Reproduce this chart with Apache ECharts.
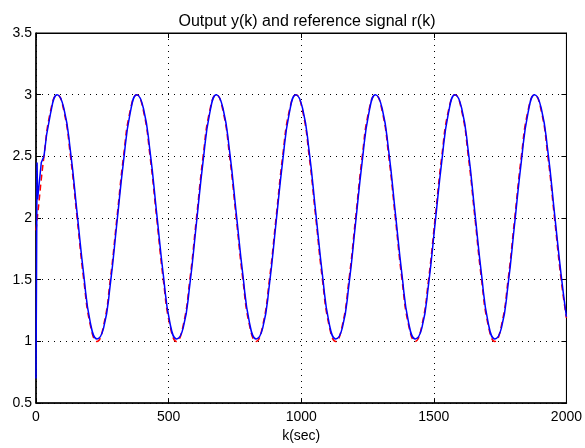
<!DOCTYPE html>
<html>
<head>
<meta charset="utf-8">
<script src="https://cdn.jsdelivr.net/npm/echarts@6/dist/echarts.min.js"></script>
<style>
html,body{margin:0;padding:0;background:#fff;}
#chart{width:585px;height:448px;}
</style>
</head>
<body>
<div id="chart"></div>
<script>
// Reference signal r(k) (red dashed)
const kRef = [0, 5, 30, 55, 80, 105, 130, 155, 180, 205, 230, 255, 280, 305, 330, 355, 380, 405, 430, 455, 480, 505, 530, 555, 580, 605, 630, 655, 680, 705, 730, 755, 780, 805, 830, 855, 880, 905, 930, 955, 980, 1005, 1030, 1055, 1080, 1105, 1130, 1155, 1180, 1205, 1230, 1255, 1280, 1305, 1330, 1355, 1380, 1405, 1430, 1455, 1480, 1505, 1530, 1555, 1580, 1605, 1630, 1655, 1680, 1705, 1730, 1755, 1780, 1805, 1830, 1855, 1880, 1905, 1930, 1955, 1980, 2000];
const rRef = [1.90,
  2.00, 2.50, 2.87, 3.00, 2.87, 2.50, 2.00, 1.50, 1.13, 1.00, 1.13, 1.50,
  2.00, 2.50, 2.87, 3.00, 2.87, 2.50, 2.00, 1.50, 1.13, 1.00, 1.13, 1.50,
  2.00, 2.50, 2.87, 3.00, 2.87, 2.50, 2.00, 1.50, 1.13, 1.00, 1.13, 1.50,
  2.00, 2.50, 2.87, 3.00, 2.87, 2.50, 2.00, 1.50, 1.13, 1.00, 1.13, 1.50,
  2.00, 2.50, 2.87, 3.00, 2.87, 2.50, 2.00, 1.50, 1.13, 1.00, 1.13, 1.50,
  2.00, 2.50, 2.87, 3.00, 2.87, 2.50, 2.00, 1.50, 1.13, 1.00, 1.13, 1.50,
  2.00, 2.50, 2.87, 3.00, 2.87, 2.50, 2.00, 1.50,
  1.19];

// Output y(k): initial transient (blue)
const kStart = [0, 4, 6, 12, 20, 30];
const yStart = [0.70, 2.45, 2.15, 2.15, 2.45, 2.50];

// Output y(k): tracking part (blue)
const kOut = [30, 55, 80, 105, 130, 155, 180, 205, 230, 255, 280, 305, 330, 355, 380, 405, 430, 455, 480, 505, 530, 555, 580, 605, 630, 655, 680, 705, 730, 755, 780, 805, 830, 855, 880, 905, 930, 955, 980, 1005, 1030, 1055, 1080, 1105, 1130, 1155, 1180, 1205, 1230, 1255, 1280, 1305, 1330, 1355, 1380, 1405, 1430, 1455, 1480, 1505, 1530, 1555, 1580, 1605, 1630, 1655, 1680, 1705, 1730, 1755, 1780, 1805, 1830, 1855, 1880, 1905, 1930, 1955, 1980, 2000];
const yOut = [2.50,
  2.85, 3.00, 2.89, 2.54, 2.04, 1.54, 1.15, 1.02, 1.11, 1.46,
  1.96, 2.46, 2.85, 3.00, 2.89, 2.54, 2.04, 1.54, 1.15, 1.02, 1.11, 1.46,
  1.96, 2.46, 2.85, 3.00, 2.89, 2.54, 2.04, 1.54, 1.15, 1.02, 1.11, 1.46,
  1.96, 2.46, 2.85, 3.00, 2.89, 2.54, 2.04, 1.54, 1.15, 1.02, 1.11, 1.46,
  1.96, 2.46, 2.85, 3.00, 2.89, 2.54, 2.04, 1.54, 1.15, 1.02, 1.11, 1.46,
  1.96, 2.46, 2.85, 3.00, 2.89, 2.54, 2.04, 1.54, 1.15, 1.02, 1.11, 1.46,
  1.96, 2.46, 2.85, 3.00, 2.89, 2.54, 2.04, 1.54,
  1.20];

const titleText = 'Output y(k) and reference signal r(k)';
const xTitle = 'k(sec)';

const zip = (a, b) => a.map((v, i) => [v, b[i]]);
const font = "'Liberation Sans', Arial, sans-serif";

const chart = echarts.init(document.getElementById('chart'), null, {renderer: 'canvas'});
const dotted = {show: true, lineStyle: {color: '#000', width: 1, type: [1, 5]}};
chart.setOption({
  animation: false,
  backgroundColor: '#fff',
  title: {
    text: titleText, left: 302, top: 9, textAlign: 'center',
    textStyle: {fontFamily: font, fontSize: 16, fontWeight: 'normal', color: '#000'}
  },
  grid: {left: 36, right: 17, top: 33, bottom: 39, show: true, borderColor: '#000', borderWidth: 1},
  xAxis: [{
    type: 'value', min: 0, max: 2000, interval: 500,
    name: xTitle, nameLocation: 'middle', nameGap: 24,
    nameTextStyle: {fontFamily: font, fontSize: 14, color: '#000'},
    axisLine: {show: true, onZero: false, lineStyle: {color: '#000', width: 1.5}},
    axisTick: {show: true, inside: true, length: 5, lineStyle: {color: '#000'}},
    axisLabel: {fontFamily: font, fontSize: 14, color: '#000', margin: 7, formatter: v => String(v)},
    splitLine: dotted
  }, {
    type: 'value', min: 0, max: 2000, interval: 500, position: 'top',
    axisLine: {show: true, onZero: false, lineStyle: {color: '#000', width: 1}},
    axisTick: {show: true, inside: true, length: 5, lineStyle: {color: '#000'}},
    axisLabel: {show: false}, splitLine: {show: false}
  }],
  yAxis: [{
    type: 'value', min: 0.5, max: 3.5, interval: 0.5,
    axisLine: {show: true, onZero: false, lineStyle: {color: '#000', width: 1.5}},
    axisTick: {show: true, inside: true, length: 5, lineStyle: {color: '#000'}},
    axisLabel: {fontFamily: font, fontSize: 14, color: '#000', margin: 4, formatter: v => String(v)},
    splitLine: dotted
  }, {
    type: 'value', min: 0.5, max: 3.5, interval: 0.5, position: 'right',
    axisLine: {show: true, onZero: false, lineStyle: {color: '#000', width: 1}},
    axisTick: {show: true, inside: true, length: 5, lineStyle: {color: '#000'}},
    axisLabel: {show: false}, splitLine: {show: false}
  }],
  series: [
    {type: 'line', name: 'r(k)', data: zip(kRef, rRef), smooth: 0.5, showSymbol: false, z: 2,
     lineStyle: {color: '#ff0000', width: 1.5, type: [6, 4]}},
    {type: 'line', name: 'y(k) start', data: zip(kStart, yStart), smooth: false, showSymbol: false, z: 3,
     lineStyle: {color: '#0000ff', width: 1.5}},
    {type: 'line', name: 'y(k)', data: zip(kOut, yOut), smooth: 0.5, showSymbol: false, z: 3,
     lineStyle: {color: '#0000ff', width: 1.5}}
  ]
});
</script>
</body>
</html>
